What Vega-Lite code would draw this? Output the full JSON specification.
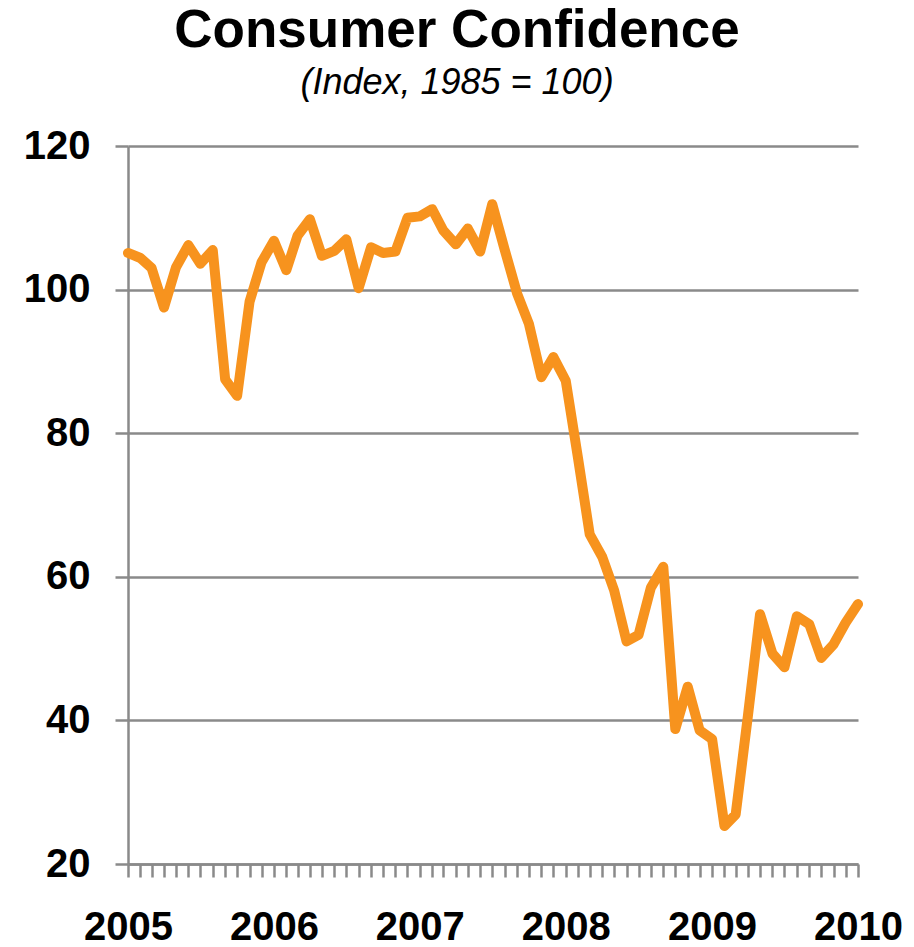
{
  "$schema": "https://vega.github.io/schema/vega-lite/v6.json",
  "width": 730,
  "height": 718,
  "autosize": {"type": "none"},
  "padding": {"left": 128, "top": 146, "right": 56, "bottom": 83},
  "background": "white",
  "title": {
    "text": "Consumer Confidence",
    "subtitle": "(Index, 1985 = 100)",
    "anchor": "middle",
    "frame": "group",
    "dx": -36,
    "font": "Liberation Sans",
    "fontSize": 53,
    "fontWeight": "bold",
    "color": "black",
    "subtitleFont": "Liberation Sans",
    "subtitleFontSize": 36,
    "subtitleFontStyle": "italic",
    "subtitleColor": "black",
    "subtitlePadding": 8,
    "offset": 25
  },
  "data": {
    "values": [
      {"date": "2005-01-01", "index": 105.1},
      {"date": "2005-02-01", "index": 104.4},
      {"date": "2005-03-01", "index": 103.0},
      {"date": "2005-04-01", "index": 97.5},
      {"date": "2005-05-01", "index": 103.1},
      {"date": "2005-06-01", "index": 106.2},
      {"date": "2005-07-01", "index": 103.6},
      {"date": "2005-08-01", "index": 105.5},
      {"date": "2005-09-01", "index": 87.5},
      {"date": "2005-10-01", "index": 85.2},
      {"date": "2005-11-01", "index": 98.3},
      {"date": "2005-12-01", "index": 103.8},
      {"date": "2006-01-01", "index": 106.8},
      {"date": "2006-02-01", "index": 102.7},
      {"date": "2006-03-01", "index": 107.5},
      {"date": "2006-04-01", "index": 109.8},
      {"date": "2006-05-01", "index": 104.7},
      {"date": "2006-06-01", "index": 105.4},
      {"date": "2006-07-01", "index": 107.0},
      {"date": "2006-08-01", "index": 100.2},
      {"date": "2006-09-01", "index": 105.9},
      {"date": "2006-10-01", "index": 105.1},
      {"date": "2006-11-01", "index": 105.3},
      {"date": "2006-12-01", "index": 110.0},
      {"date": "2007-01-01", "index": 110.2},
      {"date": "2007-02-01", "index": 111.2},
      {"date": "2007-03-01", "index": 108.2},
      {"date": "2007-04-01", "index": 106.3},
      {"date": "2007-05-01", "index": 108.5},
      {"date": "2007-06-01", "index": 105.3},
      {"date": "2007-07-01", "index": 111.9},
      {"date": "2007-08-01", "index": 105.6},
      {"date": "2007-09-01", "index": 99.5},
      {"date": "2007-10-01", "index": 95.2},
      {"date": "2007-11-01", "index": 87.8},
      {"date": "2007-12-01", "index": 90.6},
      {"date": "2008-01-01", "index": 87.3},
      {"date": "2008-02-01", "index": 76.4},
      {"date": "2008-03-01", "index": 65.9},
      {"date": "2008-04-01", "index": 62.8},
      {"date": "2008-05-01", "index": 58.1},
      {"date": "2008-06-01", "index": 51.0},
      {"date": "2008-07-01", "index": 51.9},
      {"date": "2008-08-01", "index": 58.5},
      {"date": "2008-09-01", "index": 61.4},
      {"date": "2008-10-01", "index": 38.8},
      {"date": "2008-11-01", "index": 44.7},
      {"date": "2008-12-01", "index": 38.6},
      {"date": "2009-01-01", "index": 37.4},
      {"date": "2009-02-01", "index": 25.3},
      {"date": "2009-03-01", "index": 26.9},
      {"date": "2009-04-01", "index": 40.8},
      {"date": "2009-05-01", "index": 54.8},
      {"date": "2009-06-01", "index": 49.3},
      {"date": "2009-07-01", "index": 47.4},
      {"date": "2009-08-01", "index": 54.5},
      {"date": "2009-09-01", "index": 53.4},
      {"date": "2009-10-01", "index": 48.7},
      {"date": "2009-11-01", "index": 50.6},
      {"date": "2009-12-01", "index": 53.6},
      {"date": "2010-01-01", "index": 56.2}
    ]
  },
  "mark": {
    "type": "line",
    "color": "#F7931E",
    "strokeWidth": 10,
    "strokeJoin": "round",
    "strokeCap": "round"
  },
  "encoding": {
    "x": {
      "field": "date",
      "type": "temporal",
      "title": null,
      "scale": {
        "type": "utc",
        "domain": [
          {"year": 2005, "month": 1, "date": 1, "utc": true},
          {"year": 2010, "month": 1, "date": 1, "utc": true}
        ],
        "nice": false
      },
      "axis": {
        "tickCount": {"interval": "month", "step": 1},
        "labelExpr": "utcmonth(datum.value) == 0 ? utcFormat(datum.value, '%Y') : ''",
        "labelOverlap": false,
        "labelFlush": false,
        "grid": false,
        "domainColor": "#8a8a8a",
        "domainWidth": 2.5,
        "tickColor": "#8a8a8a",
        "tickWidth": 2.5,
        "tickSize": 13,
        "labelFont": "Liberation Sans",
        "labelFontSize": 40,
        "labelFontWeight": "bold",
        "labelColor": "black",
        "labelPadding": 30
      }
    },
    "y": {
      "field": "index",
      "type": "quantitative",
      "title": null,
      "scale": {"domain": [20, 120], "nice": false, "zero": false},
      "axis": {
        "values": [20, 40, 60, 80, 100, 120],
        "grid": true,
        "gridColor": "#8a8a8a",
        "gridWidth": 2.5,
        "gridOpacity": 1,
        "domainColor": "#8a8a8a",
        "domainWidth": 2.5,
        "tickColor": "#8a8a8a",
        "tickWidth": 2.5,
        "tickSize": 13,
        "labelFont": "Liberation Sans",
        "labelFontSize": 40,
        "labelFontWeight": "bold",
        "labelColor": "black",
        "labelPadding": 25
      }
    }
  },
  "config": {
    "view": {"stroke": null}
  }
}
